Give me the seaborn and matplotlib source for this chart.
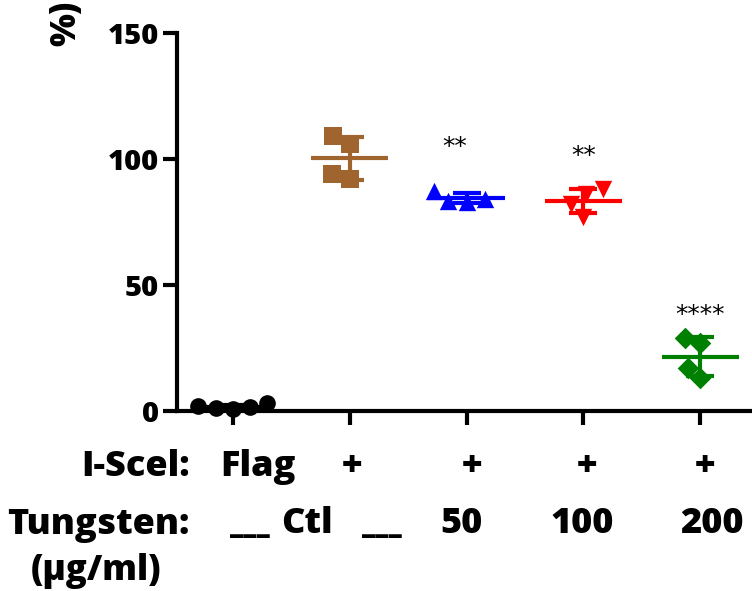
import numpy as np
import pandas as pd
import matplotlib
matplotlib.use("Agg")
import matplotlib.pyplot as plt
import seaborn as sns

# ---- data ----
groups = ["Flag", "Ctl", "50", "100", "200"]
flag_vals = [2.0, 0.8, 1.2, 1.5, 3.0]
ctl_vals = [109, 106, 92, 94]
w50_vals = [84, 83, 83.5, 87.5]
w100_vals = [88, 86, 82, 77]
w200_vals = [29, 27, 17, 13]
all_vals = [flag_vals, ctl_vals, w50_vals, w100_vals, w200_vals]
colors = ["#000000", "#A0652F", "#0000FF", "#FF0000", "#008000"]
markers = ["o", "s", "^", "v", "D"]
msizes = [12, 12.5, 12.5, 12.5, 11]
stars = ["", "", "**", "**", "****"]
star_y = [None, None, 100, 96.5, 33.5]
yticks = [0, 50, 100, 150]
row1 = ["Flag", "+", "+", "+", "+"]
row2 = ["___", "Ctl", "___", "50", "100", "200"]

sns.set_theme(style="white")
plt.rcParams["font.family"] = ["Open Sans", "DejaVu Sans"]
plt.rcParams["font.weight"] = "bold"

W, H = 752, 591
fig = plt.figure(figsize=(W / 100, H / 100), dpi=100)
ax = fig.add_axes([177 / W, 1 - 411 / H, 1 - 177 / W, (411 - 33) / H])

df = pd.DataFrame({
    "group": np.repeat(groups, [len(v) for v in all_vals]),
    "value": np.concatenate(all_vals),
})

for i, g in enumerate(groups):
    sub = df[df["group"] == g]
    sns.swarmplot(data=sub, x="group", y="value", order=groups, ax=ax,
                  color=colors[i], marker=markers[i], size=msizes[i],
                  linewidth=0, zorder=5, warn_thresh=1.0)
for c in ax.collections:
    c.set_clip_on(False)

# mean +/- SD
for i, g in enumerate(groups):
    v = np.array(all_vals[i])
    m, sd = v.mean(), v.std(ddof=1)
    ax.hlines(m, i - 0.33, i + 0.33, color=colors[i], lw=3, zorder=4)
    ax.errorbar(i, m, yerr=sd, color=colors[i], lw=3, capsize=10,
                capthick=3, zorder=4)
    if stars[i]:
        xs = i - 0.1 if i == 2 else i
        ax.text(xs, star_y[i], stars[i], ha="center", va="bottom",
                fontsize=18, fontweight="normal", family="DejaVu Sans",
                color="black")

ax.set_xlim(-0.48, 4.445)
ax.set_ylim(0, 150)
ax.set_yticks(yticks)
ax.set_yticklabels([str(t) for t in yticks])
ax.set_xticks(range(len(groups)))
ax.set_xticklabels([])
ax.set_xlabel("")
ax.set_ylabel("")
for s in ["top", "right"]:
    ax.spines[s].set_visible(False)
for s in ["left", "bottom"]:
    ax.spines[s].set_linewidth(3)
    ax.spines[s].set_color("black")
ax.tick_params(axis="y", direction="out", length=10, width=3, pad=3,
               labelsize=21, colors="black", left=True)
ax.tick_params(axis="x", direction="out", length=10, width=3, bottom=True,
               colors="black")
for lbl in ax.get_yticklabels():
    lbl.set_fontweight(800)


def ft(x, y, s, size=26, **kw):
    fig.text(x / W, 1 - y / H, s, fontsize=size, fontweight=800,
             color="black", **kw)


ft(84, 46, "%)", size=25, rotation=90, ha="right", va="bottom")
ft(190, 476, "I-Scel:", ha="right", va="baseline")
ft(190, 534, "Tungsten:", ha="right", va="baseline")
ft(96, 580, "(\u03bcg/ml)", size=25, ha="center", va="baseline")
r1x = [258, 352, 472, 587, 705]
for x, s in zip(r1x, row1):
    ft(x, 476, s, ha="center", va="baseline")
r2x = [250, 307, 382, 461, 582, 712]
for x, s in zip(r2x, row2):
    ft(x, 533, s, size=(19 if s.startswith("_") else 26),
       ha="center", va="baseline")

fig.savefig("out.png", dpi=100)
